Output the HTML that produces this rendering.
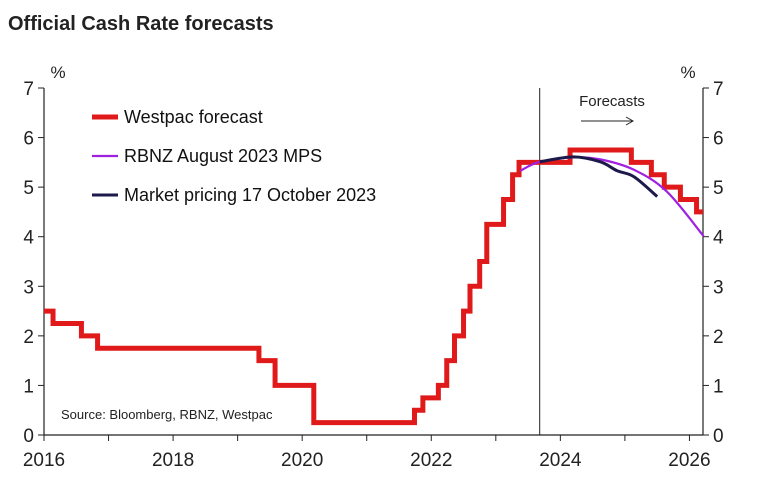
<!DOCTYPE html>
<html><head><meta charset="utf-8"><style>
body{margin:0;background:#fff;}
svg{display:block;font-family:"Liberation Sans",Arial,sans-serif;}
</style></head><body>
<svg id="c" width="761" height="494">
<text x="8" y="30" font-size="20" font-weight="bold" fill="#222">Official Cash Rate forecasts</text>
<g id="g"></g>
</svg>
<script>
const yTicks=[0,1,2,3,4,5,6,7];
const xLabels=[2016,2018,2020,2022,2024,2026];
const westpacX=[2016.0,2016.14,2016.58,2016.83,2019.33,2019.58,2020.18,2021.74,2021.87,2022.11,2022.24,2022.36,2022.5,2022.6,2022.75,2022.86,2023.12,2023.26,2023.36,2024.15,2025.1,2025.41,2025.61,2025.86,2026.11,2026.21];
const westpacY=[2.5,2.25,2.0,1.75,1.5,1.0,0.25,0.5,0.75,1.0,1.5,2.0,2.5,3.0,3.5,4.25,4.75,5.25,5.5,5.75,5.5,5.25,5.0,4.75,4.5,4.5];
const rbnzX=[2023.38,2023.68,2024.2,2024.62,2025.14,2025.65,2026.22];
const rbnzY=[5.33,5.51,5.6,5.56,5.35,4.91,4.01];
const mktX=[2023.68,2024.2,2024.62,2024.88,2025.14,2025.5];
const mktY=[5.51,5.61,5.51,5.33,5.21,4.81];
const L=44,R=703,T=88,B=435,x0=2016,x1=2026.21;
const sx=v=>L+(v-x0)/(x1-x0)*(R-L);
const sy=v=>B-v/7*(B-T);
const g=document.getElementById('g');
const NS='http://www.w3.org/2000/svg';
function mk(t,a,p){const e=document.createElementNS(NS,t);for(const k in a)e.setAttribute(k,a[k]);(p||g).appendChild(e);return e;}
let e;
e=mk('line',{x1:L,y1:T,x2:L,y2:B,stroke:'#222','stroke-width':1.2});

e=mk('line',{x1:R,y1:T,x2:R,y2:B,stroke:'#222','stroke-width':1.2});

e=mk('line',{x1:L,y1:B,x2:R,y2:B,stroke:'#222','stroke-width':1.2});

yTicks.forEach(v=>{
 mk('line',{x1:L-6,y1:sy(v),x2:L,y2:sy(v),stroke:'#222'});
 mk('line',{x1:R,y1:sy(v),x2:R+6,y2:sy(v),stroke:'#222'});
 e=mk('text',{x:L-10,y:sy(v)+7,'font-size':19,'text-anchor':'end',fill:'#222'});e.textContent=v;
 
 e=mk('text',{x:R+10,y:sy(v)+7,'font-size':19,fill:'#222'});e.textContent=v;
 
});
for(let y=2016;y<=2026;y++)mk('line',{x1:sx(y),y1:B,x2:sx(y),y2:B+6,stroke:'#222'});
xLabels.forEach(v=>{e=mk('text',{x:sx(v),y:B+31,'font-size':19,'text-anchor':'middle',fill:'#222'});e.textContent=v;
 });
e=mk('text',{x:58,y:78,'font-size':17,'text-anchor':'middle',fill:'#222'});e.textContent='%';

e=mk('text',{x:688,y:78,'font-size':17,'text-anchor':'middle',fill:'#222'});e.textContent='%';

e=mk('line',{x1:sx(2023.68),y1:T,x2:sx(2023.68),y2:B,stroke:'#222','stroke-width':1});

e=mk('text',{x:612,y:106,'font-size':15,'text-anchor':'middle',fill:'#222'});e.textContent='Forecasts';

e=mk('path',{d:'M581 121H632M626 117L633 121L626 125',stroke:'#222',fill:'none','stroke-width':1});

let d='M'+sx(westpacX[0])+' '+sy(westpacY[0]);
for(let i=1;i<westpacX.length;i++){d+='H'+sx(westpacX[i])+'V'+sy(westpacY[i]);}
e=mk('path',{d:d,stroke:'#e01a1a','stroke-width':5,fill:'none','stroke-linejoin':'miter'});

function smooth(xs,ys){const P=xs.map((x,i)=>[sx(x),sy(ys[i])]);let s='M'+P[0][0]+' '+P[0][1];
 for(let i=0;i<P.length-1;i++){const p0=P[Math.max(i-1,0)],p1=P[i],p2=P[i+1],p3=P[Math.min(i+2,P.length-1)];
  const c1=[p1[0]+(p2[0]-p0[0])/6,p1[1]+(p2[1]-p0[1])/6],c2=[p2[0]-(p3[0]-p1[0])/6,p2[1]-(p3[1]-p1[1])/6];
  s+='C'+c1[0]+' '+c1[1]+' '+c2[0]+' '+c2[1]+' '+p2[0]+' '+p2[1];}return s;}
e=mk('path',{d:smooth(rbnzX,rbnzY),stroke:'#a020e0','stroke-width':2.2,fill:'none'});

e=mk('path',{d:smooth(mktX,mktY),stroke:'#1c1a4a','stroke-width':3,fill:'none','stroke-linejoin':'round'});

const leg=[['Westpac forecast','#e01a1a',5],['RBNZ August 2023 MPS','#a020e0',2.2],['Market pricing 17 October 2023','#1c1a4a',3]];
leg.forEach((l,i)=>{const y=117+i*39;
 e=mk('line',{x1:92,y1:y,x2:118,y2:y,stroke:l[1],'stroke-width':l[2]});
 
 e=mk('text',{x:124,y:y+6,'font-size':18,fill:'#111'});e.textContent=l[0];
 });
e=mk('text',{x:61,y:419,'font-size':13,fill:'#222'});e.textContent='Source: Bloomberg, RBNZ, Westpac';

</script>
</body></html>
